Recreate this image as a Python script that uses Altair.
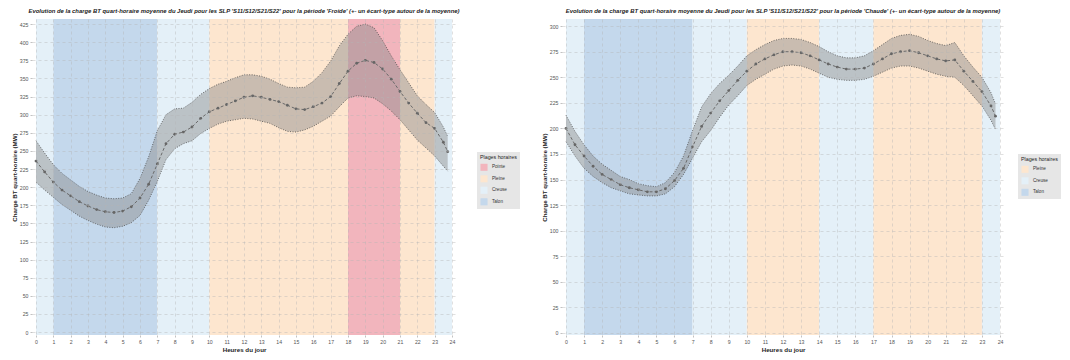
import altair as alt
import pandas as pd

hours = [i * 0.5 for i in range(48)] + [23.75]

froide_mean = [236, 221, 207, 196, 188, 180, 174, 169, 166, 165, 167, 173, 185, 204, 232, 260,
               273, 276, 283, 295, 304, 309, 314, 319, 324, 326, 324, 321, 318, 313, 308, 307,
               311, 316, 325, 343, 360, 371, 375, 372, 363, 349, 332, 316, 302, 289, 281, 262, 249]
froide_upper = [264, 247, 231, 219, 210, 201, 194, 189, 185, 184, 185, 191, 212, 242, 278, 300,
                308, 309, 317, 328, 336, 342, 346, 351, 355, 355, 353, 349, 343, 338, 337, 338,
                346, 358, 374, 395, 411, 422, 425, 420, 402, 381, 362, 344, 326, 314, 303, 283, 270]
froide_lower = [207, 196, 186, 176, 168, 160, 154, 149, 145, 144, 146, 151, 161, 182, 208, 238,
                253, 260, 264, 274, 281, 287, 291, 293, 295, 294, 291, 288, 282, 277, 276, 279,
                284, 291, 298, 311, 323, 326, 325, 323, 315, 305, 293, 279, 265, 254, 243, 229, 222]

chaude_mean = [200, 184, 173, 163, 155, 150, 145, 142, 140, 138, 138, 141, 149, 161, 182, 202,
               215, 227, 237, 247, 256, 263, 268, 272, 275, 275, 274, 271, 267, 263, 260, 258,
               258, 259, 263, 268, 273, 275, 276, 274, 271, 268, 266, 267, 256, 246, 236, 222, 212]
chaude_upper = [213, 197, 184, 173, 165, 159, 153, 150, 146, 144, 143, 147, 157, 173, 198, 221,
                234, 244, 252, 261, 271, 277, 282, 286, 288, 288, 287, 284, 280, 275, 271, 269,
                269, 271, 276, 282, 288, 291, 292, 290, 286, 283, 281, 284, 271, 260, 250, 235, 224]
chaude_lower = [187, 173, 161, 153, 147, 142, 139, 136, 135, 134, 134, 136, 143, 155, 171, 187,
                198, 211, 223, 232, 242, 248, 253, 258, 261, 262, 261, 258, 254, 250, 248, 247,
                247, 248, 251, 255, 259, 261, 261, 259, 256, 253, 251, 250, 242, 232, 222, 208, 199]

froide_start = [0, 1, 7, 10, 18, 21, 23]
froide_end = [1, 7, 10, 18, 21, 23, 24]
froide_plage = ["Creuse", "Talon", "Creuse", "Pleine", "Pointe", "Pleine", "Creuse"]

chaude_start = [0, 1, 7, 10, 14, 17, 23]
chaude_end = [1, 7, 10, 14, 17, 23, 24]
chaude_plage = ["Creuse", "Talon", "Creuse", "Pleine", "Creuse", "Pleine", "Creuse"]

plage_colors = {"Pointe": "#f2b5bd", "Pleine": "#fde6cf", "Creuse": "#e4f0f8", "Talon": "#c4d8ec"}

title_froide = ("Evolution de la charge BT quart-horaire moyenne du Jeudi pour les SLP "
                "'S11/S12/S21/S22' pour la période 'Froide' (+- un écart-type autour de la moyenne)")
title_chaude = ("Evolution de la charge BT quart-horaire moyenne du Jeudi pour les SLP "
                "'S11/S12/S21/S22' pour la période 'Chaude' (+- un écart-type autour de la moyenne)")

FONT = "Liberation Sans"


def panel(mean, lo, hi, starts, ends, plages, legend_order, title, w, h, ydom, ymax, xdom, lx, ly):
    curve = pd.DataFrame({"h": hours, "m": mean, "lo": lo, "hi": hi})
    bands = pd.DataFrame({"s": starts, "e": ends, "p": plages})
    xs = alt.Scale(domain=xdom, nice=False, zero=False)
    ys = alt.Scale(domain=ydom, nice=False, zero=False)
    xax = alt.Axis(values=list(range(0, 25)), title="Heures du jour", format="d",
                   labelOverlap=False, zindex=1)
    yax = alt.Axis(values=list(range(0, ymax + 1, 25)), title="Charge BT quart-horaire (MW)",
                   labelOverlap=False, zindex=1)

    rects = alt.Chart(bands).mark_rect(strokeWidth=0).encode(
        x=alt.X("s:Q", scale=xs, axis=xax),
        x2="e:Q",
        color=alt.Color(
            "p:N",
            scale=alt.Scale(domain=legend_order, range=[plage_colors[k] for k in legend_order]),
            legend=alt.Legend(
                title="Plages horaires", orient="none", legendX=lx, legendY=ly,
                fillColor="#e6e6e6", padding=3, titleFontSize=5.3, labelFontSize=4.6,
                titleFontWeight="normal", symbolType="square", symbolSize=50,
                symbolStrokeWidth=0, titleFont=FONT, labelFont=FONT, rowPadding=3.5,
                titleColor="#222222", labelColor="#333333", titlePadding=3,
            ),
        ),
    )
    base = alt.Chart(curve)
    area = base.mark_area(color="#8a8a8a", opacity=0.45).encode(
        x=alt.X("h:Q", scale=xs, axis=xax),
        y=alt.Y("lo:Q", scale=ys, axis=yax),
        y2="hi:Q",
    )
    up = base.mark_line(color="#3c3c3c", strokeDash=[1, 1.5], strokeWidth=0.7).encode(
        x=alt.X("h:Q", scale=xs, axis=xax), y=alt.Y("hi:Q", scale=ys, axis=yax))
    dn = base.mark_line(color="#3c3c3c", strokeDash=[1, 1.5], strokeWidth=0.7).encode(
        x=alt.X("h:Q", scale=xs, axis=xax), y=alt.Y("lo:Q", scale=ys, axis=yax))
    ml = base.mark_line(color="#6a6a6a", strokeDash=[3, 2], strokeWidth=1).encode(
        x=alt.X("h:Q", scale=xs, axis=xax), y=alt.Y("m:Q", scale=ys, axis=yax))
    mp = base.mark_circle(color="#666666", size=8, opacity=1).encode(
        x=alt.X("h:Q", scale=xs, axis=xax), y=alt.Y("m:Q", scale=ys, axis=yax))
    return alt.layer(rects, area, up, dn, ml, mp).properties(
        width=w, height=h,
        title=alt.TitleParams(title, fontSize=5.9, fontStyle="italic", fontWeight="bold",
                              font=FONT, offset=5, anchor="middle", color="#222222"),
    )


left = panel(froide_mean, froide_lower, froide_upper, froide_start, froide_end, froide_plage,
             ["Pointe", "Pleine", "Creuse", "Talon"], title_froide, 424, 316,
             [-4, 432], 425, [-0.23, 24.23], 445, 133)
right = panel(chaude_mean, chaude_lower, chaude_upper, chaude_start, chaude_end, chaude_plage,
              ["Pleine", "Creuse", "Talon"], title_chaude, 442, 316,
              [-2, 307], 300, [-0.22, 24.22], 456, 135)

chart = alt.hconcat(left, right, spacing=21).resolve_scale(
    color="independent", x="independent", y="independent"
).resolve_legend(color="independent").properties(
    padding={"left": 3, "top": 0, "right": 0, "bottom": 0}
).configure_view(
    stroke=None, fill="#ffffff"
).configure_axis(
    grid=True, gridColor="#b5b5b5", gridDash=[3, 3], gridWidth=0.6, gridOpacity=0.7,
    domain=False, ticks=True, tickSize=2, tickColor="#999999", tickWidth=0.6,
    labelFontSize=5.2, labelColor="#555555", labelFont=FONT, labelPadding=2,
    titleFontSize=6.2, titleFontWeight="bold", titleFont=FONT, titleColor="#222222",
    titlePadding=2,
)

chart.save("out.html", embed_options={"renderer": "svg", "actions": False})
